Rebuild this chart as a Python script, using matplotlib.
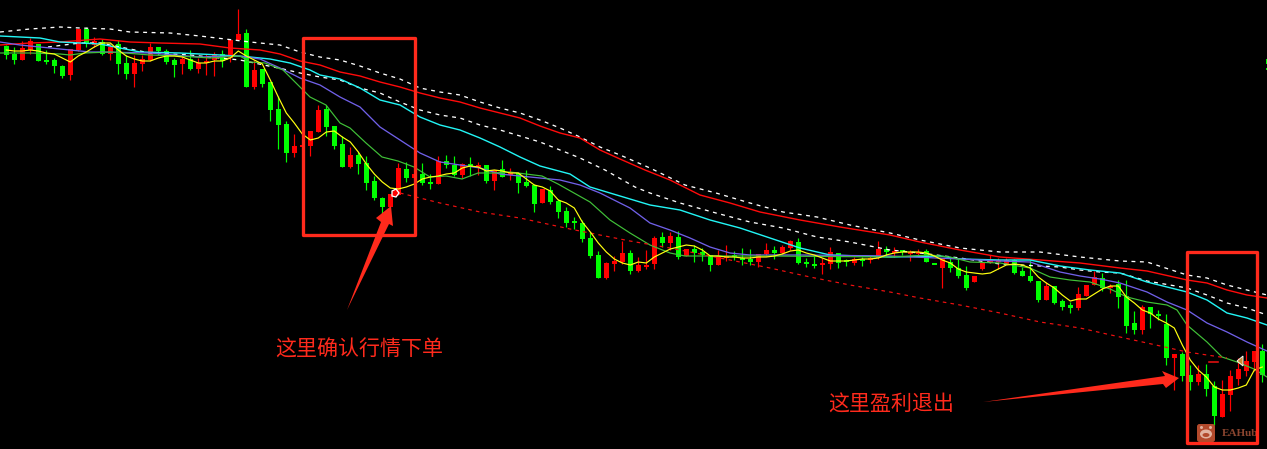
import numpy as np
import matplotlib
matplotlib.use("Agg")
import matplotlib.pyplot as plt
from matplotlib.patches import Rectangle, Polygon, FancyBboxPatch, Ellipse

plt.rcParams['font.family'] = ['Noto Sans CJK SC', 'DejaVu Sans']

# --- Candles (chart scale: smaller number = higher on the chart) ---
direction = (
    "g g r r g g g g r r g r g r g g r r r g g g r g r r r g r r "
    "g r g g g g r r r r g g g r g g g g r r g r g g r g g r g r "
    "g r g r g g g r g g g g g g g r r r g r r r g r g r g g g r "
    "r g g g r r g r r g g g r r g g r g r r g r g r r g g r g g "
    "g r r r r r g g g g r g g g r r r g r g "
    "g g r g g g r g g r g g r r r r r g"
).split()

body_top = [46,54,48,41,44,60,60,66,49,29,29,41,42,47,44,63,63,59,47,47,
            51,60,59,59,63,61,54,54,40,34,33,70,69,82,109,124,146,145,131,110,
            109,126,144,155,155,163,181,198,194,168,169,174,174,182,161,161,165,164,164,165,
            165,170,169,172,173,182,185,189,190,201,211,221,223,238,255,263,261,253,253,265,
            265,238,237,236,237,249,249,252,255,256,256,255,258,259,254,250,250,247,241,242,
            262,264,263,252,253,260,259,259,258,249,249,251,250,252,252,251,263,258,262,268,
            275,276,263,260,260,260,260,271,276,281,286,286,301,305,294,285,277,278,286,284,
            296,323,307,307,314,324,354,354,375,374,374,386,394,376,369,361,351,351]
body_bottom = [55,60,60,50,61,62,66,76,75,50,44,45,54,54,64,74,74,64,60,51,
               62,65,64,69,69,63,60,61,58,40,87,87,84,110,125,153,153,146,146,132,
               127,146,167,167,164,183,198,207,207,195,178,178,183,184,184,165,175,175,167,167,
               181,181,177,175,183,186,204,203,202,212,223,222,239,256,278,278,264,262,271,271,
               267,264,243,243,257,256,253,255,265,265,257,257,259,262,262,254,253,253,248,263,
               263,265,265,264,263,262,263,260,259,258,252,252,252,253,253,262,264,268,268,276,
               288,282,269,263,261,264,273,276,281,300,300,303,307,308,308,296,285,288,287,297,
               326,330,330,314,315,358,358,376,382,382,389,416,417,395,379,371,362,375]
wick_top = [45,47,41,38,44,50,58,65,49,29,27,37,39,45,40,55,55,55,43,47,
            49,58,55,50,58,54,52,50,40,9,29,60,69,82,96,121,134,145,131,105,
            105,126,136,147,152,156,176,197,194,163,162,174,163,174,156,155,156,163,157,162,
            165,170,160,168,173,170,184,189,186,199,207,217,220,232,251,262,256,241,250,257,
            250,236,232,232,231,249,245,248,255,250,245,251,248,249,254,243,246,245,240,238,
            258,255,258,247,253,259,257,257,256,241,246,247,250,250,249,249,263,258,258,258,
            266,276,263,255,258,258,259,267,260,281,282,286,299,302,287,285,271,273,284,280,
            280,311,305,307,310,314,354,352,365,365,364,381,380,370,358,351,351,344]
wick_bottom = [59,64,60,54,61,64,73,78,80,51,47,47,55,60,74,79,87,71,61,55,
               64,77,74,70,73,75,76,67,62,40,87,89,87,121,149,162,157,146,156,132,
               136,149,167,168,174,190,200,214,207,195,182,178,185,189,184,168,176,178,176,175,
               183,190,177,180,193,187,212,203,204,218,227,229,242,258,278,279,271,264,274,272,
               269,269,247,250,259,256,262,261,271,265,261,260,265,265,267,256,259,254,250,264,
               267,268,274,269,268,266,265,266,263,259,256,257,255,261,255,262,264,288,272,278,
               290,282,270,263,269,264,274,276,282,302,300,304,310,313,310,296,285,291,293,308,
               333,334,334,328,320,365,390,381,390,385,396,425,417,411,385,376,371,382]

# --- Moving averages, one reading per candle for the fast line ---
fast_ma = [50,51,51,50,51,53,54,58,62,56,52,47,43,43,50,56,59,61,61,58,
           56,56,57,60,63,63,61,61,58,51,56,60,64,80,97,113,123,134,140,138,
           132,131,137,142,152,164,174,182,188,189,187,184,179,177,176,174,173,168,166,167,
           171,170,171,173,173,179,185,187,191,200,203,208,222,232,243,252,259,263,265,262,
           263,257,253,249,247,245,246,250,256,256,257,257,258,258,257,257,256,254,251,250,
           253,255,258,261,261,261,260,259,259,258,255,253,252,252,252,253,256,260,263,269,
           272,273,274,273,269,265,264,265,268,277,283,288,295,301,299,299,294,289,286,286,
           297,303,310,313,319,323,328,345,360,370,377,387,390,390,388,385,370,367]

green_t = [0,30,60,70,85,110,125,150,180,210,240,250,265,283,300,310,326,340,350,366,382,398,414,430,446,462,478,494,510,526,542,558,574,590,610,630,650,670,685,710,770,890,930,950,970,1000,1030,1050,1070,1090,1110,1127,1147,1167,1177,1187,1207,1222,1237,1254,1267]
green_v = [53,53,54,55,53,52,53,55,56,58,56,62,63,70,87,97,105,123,128,143,157,161,167,177,176,179,173,173,172,174,176,184,193,202,220,233,245,253,256,256,256,257,255,257,262,263,268,277,280,282,289,297,302,305,310,325,342,357,362,369,377]

purple_t = [0,20,40,60,90,100,150,200,240,260,280,300,320,340,360,380,400,420,440,460,480,500,520,540,560,580,600,630,650,670,690,710,730,750,800,890,960,1000,1030,1060,1080,1100,1120,1147,1167,1187,1207,1227,1247,1267]
purple_v = [42,45,47,49,52,52,53,57,56,59,68,78,85,97,107,127,140,153,162,165,168,174,176,178,180,185,193,208,223,230,238,247,253,255,255,256,259,261,262,272,276,279,283,292,302,310,323,332,342,351]

cyan_t = [0,20,40,60,80,100,120,140,180,220,250,270,290,310,320,340,360,380,400,420,440,460,480,500,520,540,570,590,620,650,680,710,740,770,800,830,890,940,960,1000,1030,1060,1090,1120,1147,1167,1187,1207,1227,1247,1267]
cyan_v = [36,37,38,42,43,44,48,52,53,55,57,59,63,70,75,79,88,100,105,117,125,130,138,147,157,166,174,187,196,205,210,220,228,238,248,255,257,256,259,260,260,266,270,273,282,287,292,300,313,318,325]

red_t = [0,30,60,100,130,160,200,230,260,280,300,320,340,360,380,400,420,440,460,480,500,520,540,560,580,600,620,645,670,700,730,760,800,840,890,920,960,1000,1040,1080,1120,1147,1187,1207,1227,1247,1267]
red_v = [45,43,42,39,42,43,44,48,50,54,61,65,72,76,82,87,93,98,102,108,113,118,126,133,138,150,159,170,180,195,203,212,220,227,235,242,250,257,260,263,268,271,280,283,290,295,298]

band_up_t = [0,30,60,80,110,130,170,200,250,280,300,320,340,360,380,400,420,440,460,480,500,520,540,560,580,600,620,650,685,716,750,783,817,850,890,920,960,1000,1040,1080,1120,1147,1187,1207,1227,1247,1267]
band_up_v = [32,29,27,28,29,32,33,36,42,45,52,57,60,66,73,79,88,92,95,102,108,113,120,128,137,147,155,168,185,193,203,212,217,225,233,240,248,252,252,257,261,262,275,278,285,290,295]

band_low_t = [48,80,100,130,150,190,240,283,300,320,340,360,380,400,420,440,460,480,500,520,540,560,580,605,635,650,680,716,750,783,817,850,890,920,960,1000,1060,1080,1100,1120,1147,1187,1207,1227,1247,1267]
band_low_v = [47,43,43,49,53,55,60,69,73,77,80,88,93,102,110,115,118,125,130,136,142,150,158,170,187,193,203,213,222,228,237,242,250,253,258,264,267,270,272,273,281,288,295,303,308,315]

trend_t = [400,440,480,520,570,590,630,670,710,730,770,810,850,890,920,960,1000,1040,1080,1120,1147,1187,1207,1227]
trend_v = [193,203,212,218,229,233,241,248,256,260,268,277,285,292,298,305,313,322,328,337,343,352,355,358]

note_entry = "这里确认行情下单"
note_exit = "这里盈利退出"
watermark = "EAHub"

RED = "#ff0000"
GREEN = "#00ff00"
ANNOT = "#ff2a1c"
PX = 72 / 100

n = len(body_top)
times = 6.3 + 8 * np.arange(n)
is_red = np.array([d == "r" for d in direction[:n]])
b_top = np.array(body_top, float)
b_bot = np.array(body_bottom, float)
b_h = np.maximum(b_bot - b_top, 1.5)

fig = plt.figure(figsize=(12.67, 4.49), dpi=100, facecolor="black")
ax = fig.add_axes([0, 0, 1, 1], facecolor="black")
ax.set_xlim(0, 1267)
ax.set_ylim(449, 0)
ax.axis("off")

for mask, col in ((is_red, RED), (~is_red, GREEN)):
    ax.vlines(times[mask], np.array(wick_top)[mask], np.array(wick_bottom)[mask],
              color=col, lw=1.2 * PX, zorder=2)
    ax.bar(times[mask], b_h[mask], bottom=b_top[mask], width=5.6, color=col,
           linewidth=0, zorder=3)
# partial candle cut by the right edge
ax.bar([1267], [5], bottom=[59], width=3, color=GREEN, linewidth=0, zorder=3)
ax.bar([1267], [1.5], bottom=[68], width=3, color=GREEN, linewidth=0, zorder=3)

ax.plot(band_low_t, band_low_v, color="white", lw=1.3 * PX, ls=(0, (3, 3.5)), zorder=4)
ax.plot(band_up_t, band_up_v, color="white", lw=1.3 * PX, ls=(0, (3, 3.5)), zorder=4)
ax.plot(red_t, red_v, color="#ff0a0a", lw=1.4 * PX, zorder=4)
ax.plot(cyan_t, cyan_v, color="#22f5f5", lw=1.4 * PX, zorder=4)
ax.plot(purple_t, purple_v, color="#7060e8", lw=1.3 * PX, zorder=4)
ax.plot(green_t, green_v, color="#40c038", lw=1.2 * PX, zorder=4)
ax.plot(times, fast_ma, color="#ffff10", lw=1.2 * PX, zorder=5)
ax.plot(trend_t, trend_v, color="#f01010", lw=1.2 * PX, ls=(0, (3, 3.5)), zorder=4)
ax.plot([1209, 1218], [362, 362], color="#e81010", lw=1.6 * PX, zorder=4)

# trade markers
ax.add_patch(Polygon([(392, 191), (396, 189), (399, 193), (396, 197), (392, 196)],
                     closed=True, fc="#ff0000", ec="white", lw=1.3 * PX, zorder=6))
ax.add_patch(Polygon([(1243, 356), (1243, 366), (1237, 361)],
                     closed=True, fc="#c88a30", ec="white", lw=0.9 * PX, zorder=6))

# annotation boxes
for x0, y0, x1, y1 in ((303, 38, 415, 235), (1186.5, 252, 1257, 443)):
    ax.add_patch(Rectangle((x0, y0), x1 - x0, y1 - y0, fill=False, ec=ANNOT,
                           lw=3.3 * PX, joinstyle="round", zorder=7))

# hand-drawn arrows
ax.add_patch(Polygon([(347, 310), (381, 222), (376, 218), (391, 206), (393, 226), (389, 224)],
                     closed=True, fc=ANNOT, ec="none", zorder=8))
ax.add_patch(Polygon([(983, 402), (1165, 376), (1162, 371), (1179, 378), (1166, 388), (1163, 384)],
                     closed=True, fc=ANNOT, ec="none", zorder=8))

ax.text(275, 350, note_entry, color=ANNOT, fontsize=15.1, va="center", ha="left", zorder=8)
ax.text(828, 405, note_exit, color=ANNOT, fontsize=15.1, va="center", ha="left", zorder=8)

# watermark
ax.add_patch(FancyBboxPatch((1197, 424), 18, 18, boxstyle="round,pad=0,rounding_size=2.5",
                            fc="#b34a2c", ec="none", zorder=9))
ax.add_patch(Ellipse((1206, 434), 12, 9, fc="#e2b3a0", ec="none", zorder=10))
ax.add_patch(Ellipse((1201.5, 427.5), 3, 3, fc="#e2b3a0", ec="none", zorder=10))
ax.add_patch(Ellipse((1210.5, 427.5), 3, 3, fc="#e2b3a0", ec="none", zorder=10))
ax.add_patch(Ellipse((1206, 435), 7, 4, fc="#b34a2c", ec="none", zorder=11))
ax.text(1221.5, 434, watermark, color="#8a452f", fontsize=8.0, family="Liberation Serif",
        weight="bold", va="center", ha="left", zorder=6)

fig.savefig("out.png", dpi=100, facecolor="black")
